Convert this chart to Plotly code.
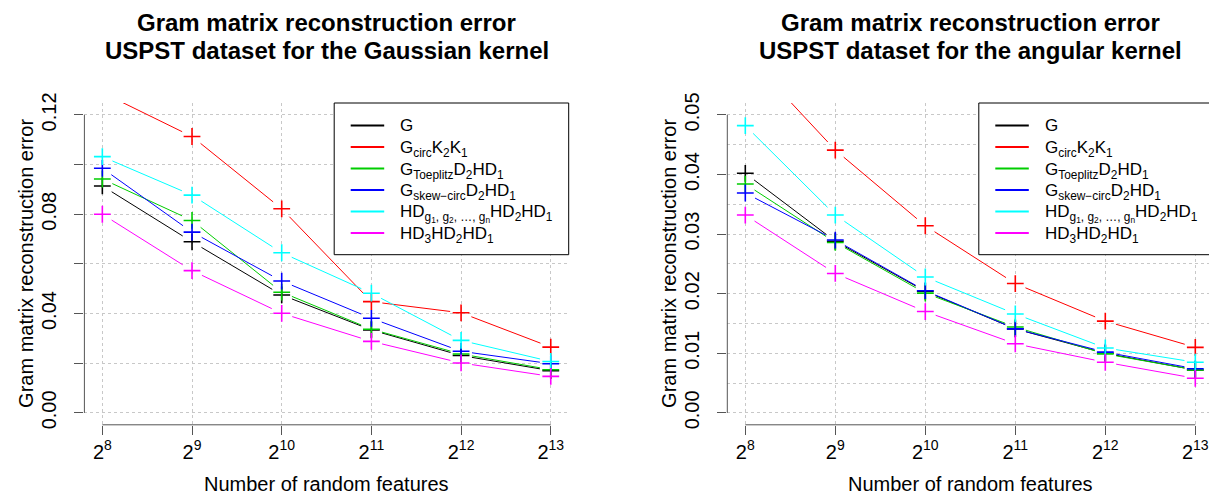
import math
import plotly.graph_objects as go

# ---------------- data ----------------
features = [256, 512, 1024, 2048, 4096, 8192]
x_tick_labels = ["2<sup>8</sup>", "2<sup>9</sup>", "2<sup>10</sup>", "2<sup>11</sup>", "2<sup>12</sup>", "2<sup>13</sup>"]

series_names = [
    "G",
    "G<sub>circ</sub>K<sub>2</sub>K<sub>1</sub>",
    "G<sub>Toeplitz</sub>D<sub>2</sub>HD<sub>1</sub>",
    "G<sub>skew\u2212circ</sub>D<sub>2</sub>HD<sub>1</sub>",
    "HD<sub>g<sub>1</sub>, g<sub>2</sub>, \u2026, g<sub>n</sub></sub>HD<sub>2</sub>HD<sub>1</sub>",
    "HD<sub>3</sub>HD<sub>2</sub>HD<sub>1</sub>",
]
series_colors = ["black", "red", "#00CD00", "blue", "cyan", "magenta"]

gauss_G = [0.0914, 0.0689, 0.0475, 0.0334, 0.0231, 0.0170]
gauss_circ = [0.1290, 0.1113, 0.0822, 0.0448, 0.0403, 0.0265]
gauss_toeplitz = [0.0942, 0.0775, 0.0486, 0.0337, 0.0237, 0.0174]
gauss_skew = [0.0985, 0.0728, 0.0531, 0.0381, 0.0248, 0.0198]
gauss_hdg = [0.1032, 0.0877, 0.0645, 0.0482, 0.0292, 0.0207]
gauss_hd3 = [0.0800, 0.0573, 0.0401, 0.0288, 0.0201, 0.0147]

ang_G = [0.0402, 0.0288, 0.0204, 0.0141, 0.0100, 0.0072]
ang_circ = [0.0603, 0.0441, 0.0314, 0.0217, 0.0154, 0.0110]
ang_toeplitz = [0.0384, 0.0286, 0.0201, 0.0144, 0.0099, 0.0072]
ang_skew = [0.0369, 0.0290, 0.0205, 0.0141, 0.0102, 0.0074]
ang_hdg = [0.0482, 0.0332, 0.0228, 0.0166, 0.0109, 0.0085]
ang_hd3 = [0.0332, 0.0234, 0.0170, 0.0116, 0.0085, 0.0058]

gauss_series = [gauss_G, gauss_circ, gauss_toeplitz, gauss_skew, gauss_hdg, gauss_hd3]
ang_series = [ang_G, ang_circ, ang_toeplitz, ang_skew, ang_hdg, ang_hd3]

left_yticks = [0.00, 0.02, 0.04, 0.06, 0.08, 0.10, 0.12]
left_yticklabels = ["0.00", "", "0.04", "", "0.08", "", "0.12"]
right_yticks = [0.00, 0.01, 0.02, 0.03, 0.04, 0.05]
right_yticklabels = ["0.00", "0.01", "0.02", "0.03", "0.04", "0.05"]

title_line1 = ["Gram matrix reconstruction error", "Gram matrix reconstruction error"]
title_line2 = ["USPST dataset for the Gaussian kernel", "USPST dataset for the angular kernel"]
y_title = "Gram matrix reconstruction error"
x_title = "Number of random features"

# ---------------- layout geometry ----------------
W, H = 1217, 494
FONT = "Liberation Sans, Arial, Helvetica, sans-serif"
left_px = (76.4, 560.7)
right_px = (719.3, 1205.3)
top_px, bot_px = 95.0, 416.8
xdom_l = [left_px[0] / W, left_px[1] / W]
xdom_r = [right_px[0] / W, right_px[1] / W]
ydom = [1 - bot_px / H, 1 - top_px / H]

xlog_range = [7.8, 13.2]  # log2 limits (R's 4% extension of 8..13)
yr_left = [-0.0048, 0.1248]
yr_right = [-0.002, 0.052]

GAP = 11.0  # px gap around points (R type="b")


def gapped_segments(xs, ys, xpx_width, yrange):
    sx = xpx_width / (xlog_range[1] - xlog_range[0])
    sy = (bot_px - top_px) / (yrange[1] - yrange[0])
    outx, outy = [], []
    for j in range(len(xs) - 1):
        ax, ay = math.log2(xs[j]) * sx, ys[j] * sy
        bx, by = math.log2(xs[j + 1]) * sx, ys[j + 1] * sy
        dx, dy = bx - ax, by - ay
        L = math.hypot(dx, dy)
        if L <= 2 * GAP:
            continue
        ux, uy = dx / L, dy / L
        p0 = (ax + ux * GAP, ay + uy * GAP)
        p1 = (bx - ux * GAP, by - uy * GAP)
        outx += [2 ** (p0[0] / sx), 2 ** (p1[0] / sx), None]
        outy += [p0[1] / sy, p1[1] / sy, None]
    return outx, outy


fig = go.Figure()

panels = [
    (gauss_series, "x", "y", left_px, yr_left),
    (ang_series, "x2", "y2", right_px, yr_right),
]
for series, xa, ya, pxr, yr in panels:
    for name, col, vals in zip(series_names, series_colors, series):
        sx, sy = gapped_segments(features, vals, pxr[1] - pxr[0], yr)
        fig.add_trace(go.Scatter(
            x=sx, y=sy, mode="lines", name=name, xaxis=xa, yaxis=ya,
            line=dict(color=col, width=1), connectgaps=False, showlegend=False,
        ))
    for name, col, vals in zip(series_names, series_colors, series):
        fig.add_trace(go.Scatter(
            x=features, y=vals, mode="markers", xaxis=xa, yaxis=ya, name=name,
            showlegend=False,
            marker=dict(symbol="cross-thin", size=12, line=dict(color=col, width=1.6), color=col),
        ))

grid_col = "#C8C8C8"
axis_col = "#555555"
common_x = dict(
    type="log", range=[v * math.log10(2) for v in xlog_range],
    tickmode="array", tickvals=features, ticktext=x_tick_labels,
    showgrid=True, gridcolor=grid_col, griddash="dot", gridwidth=1,
    ticks="outside", ticklen=9, tickcolor=axis_col, tickwidth=1,
    showline=False, zeroline=False, automargin=False,
    tickfont=dict(family=FONT, size=20, color="black"),
)
common_y = dict(
    showgrid=True, gridcolor=grid_col, griddash="dot", gridwidth=1,
    ticks="outside", ticklen=9, tickcolor=axis_col, tickwidth=1,
    showline=False, zeroline=False, automargin=False, tickangle=-90,
    ticklabelstandoff=10,
    tickfont=dict(family=FONT, size=20, color="black"),
)

fig.update_layout(
    width=W, height=H,
    margin=dict(l=0, r=0, t=0, b=0),
    paper_bgcolor="white", plot_bgcolor="white",
    font=dict(family=FONT, color="black"),
    xaxis={**common_x, "domain": xdom_l, "anchor": "y"},
    xaxis2={**common_x, "domain": xdom_r, "anchor": "y2"},
    yaxis={**common_y, "domain": ydom, "anchor": "x", "range": yr_left,
           "tickmode": "array", "tickvals": left_yticks, "ticktext": left_yticklabels},
    yaxis2={**common_y, "domain": ydom, "anchor": "x2", "range": yr_right,
            "tickmode": "array", "tickvals": right_yticks, "ticktext": right_yticklabels,
            "minor": dict(tickmode="linear", tick0=0.005, dtick=0.01, showgrid=True,
                          gridcolor=grid_col, griddash="dot", gridwidth=1, ticks="")},
    showlegend=False,
)

# axis lines spanning first to last tick (R style)
x_lo = (8 - xlog_range[0]) / (xlog_range[1] - xlog_range[0])
x_hi = (13 - xlog_range[0]) / (xlog_range[1] - xlog_range[0])
for xa, ya, ymax in [("x", "y", 0.12), ("x2", "y2", 0.05)]:
    fig.add_shape(type="line", xref=f"{xa} domain", yref=f"{ya} domain",
                  x0=x_lo, x1=x_hi, y0=0, y1=0, line=dict(color=axis_col, width=1))
    fig.add_shape(type="line", xref=f"{xa} domain", yref=ya,
                  x0=0, x1=0, y0=0, y1=ymax, line=dict(color=axis_col, width=1))

# legends (R style, top-right of each plot region)
LEG_W, LEG_H = 234.5, 151.7
ROW0, ROWSTEP = 22.5, 21.5
for pxr in [left_px, right_px]:
    bx1 = pxr[1]
    bx0 = bx1 - LEG_W
    fig.add_shape(type="rect", xref="paper", yref="paper", layer="above",
                  x0=bx0 / W, x1=bx1 / W, y0=1 - (top_px + LEG_H) / H, y1=1 - top_px / H,
                  fillcolor="white", line=dict(color="black", width=1))
    for k, (name, col) in enumerate(zip(series_names, series_colors)):
        yy = top_px + ROW0 + k * ROWSTEP
        fig.add_shape(type="line", xref="paper", yref="paper", layer="above",
                      x0=(bx0 + 16.5) / W, x1=(bx0 + 50) / W, y0=1 - yy / H, y1=1 - yy / H,
                      line=dict(color=col, width=2))
        fig.add_annotation(text=name, xref="paper", yref="paper",
                           x=(bx0 + 64) / W, y=1 - (yy + (0 if k == 0 else 2.2)) / H,
                           xanchor="left", yanchor="middle", showarrow=False,
                           font=dict(family=FONT, size=17, color="black"))

# titles and axis titles
centers = [(left_px[0] + left_px[1]) / 2 / W, (right_px[0] + right_px[1]) / 2 / W]
ytitle_x = [18 / W, 661 / W]
for i in range(2):
    fig.add_annotation(text="<b>" + title_line1[i] + "</b>", xref="paper", yref="paper",
                       x=centers[i], y=1 - 14.5 / H, xanchor="center", yanchor="middle",
                       showarrow=False, font=dict(family=FONT, size=24, color="black"))
    fig.add_annotation(text="<b>" + title_line2[i] + "</b>", xref="paper", yref="paper",
                       x=centers[i], y=1 - 43 / H, xanchor="center", yanchor="middle",
                       showarrow=False, font=dict(family=FONT, size=24, color="black"))
    fig.add_annotation(text=x_title, xref="paper", yref="paper", x=centers[i], y=1 - 476 / H,
                       xanchor="center", yanchor="middle", showarrow=False,
                       font=dict(family=FONT, size=20, color="black"))
    fig.add_annotation(text=y_title, xref="paper", yref="paper", x=ytitle_x[i],
                       y=1 - (top_px + bot_px) / 2 / H, textangle=-90,
                       xanchor="center", yanchor="middle", showarrow=False,
                       font=dict(family=FONT, size=20, color="black"))

fig.write_html("out.html")
